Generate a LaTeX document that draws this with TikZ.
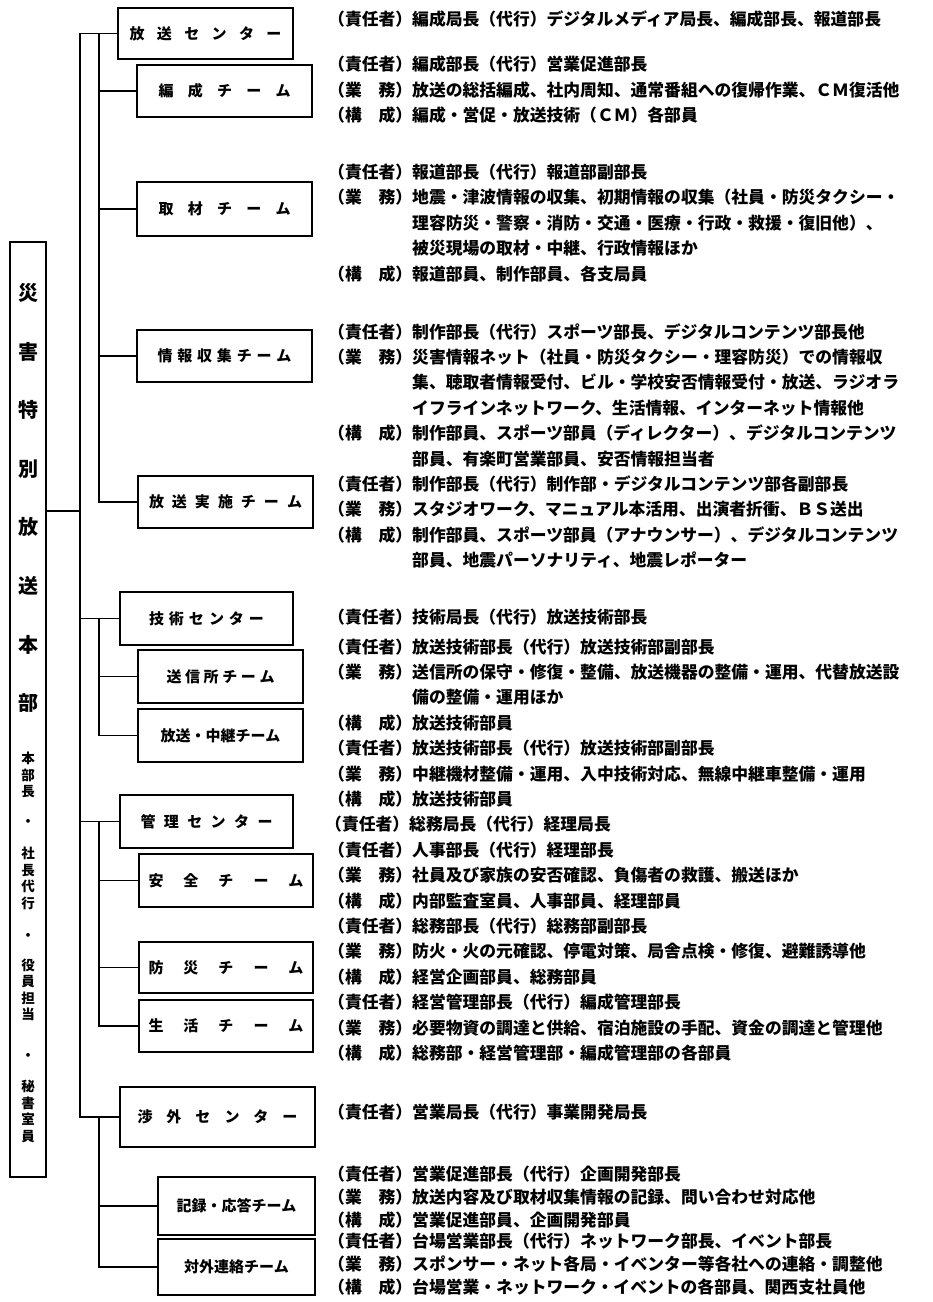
\documentclass[tikz,border=0pt]{standalone}
\usepackage{fontspec}
\newfontfamily\jp{Noto Sans CJK JP}
\newcommand\spread[2]{\makebox[#1][s]{#2}}
\newcommand\dl[1]{\strut\makebox[5em][l]{#1}}
\newcommand\dind{\strut\hspace*{5em}}

\begin{document}
\begin{tikzpicture}[
x=1pt, y=-1pt,
hub/.style={
draw,
line width=1.8pt,
inner sep=0pt,
minimum width=175pt,
minimum height=52pt,
font=\jp\bfseries\fontsize{15}{18}\selectfont
},
hqbox/.style={draw, line width=1.8pt, inner sep=0pt, minimum width=36pt, minimum height=935pt},
hqbig/.style={align=center, inner sep=0pt, font=\jp\bfseries\fontsize{20}{58.6}\selectfont},
hqsmall/.style={align=center, inner sep=0pt, font=\jp\bfseries\fontsize{13.5}{16.5}\selectfont},
duty/.style={anchor=west, align=left, inner sep=0pt, font=\jp\bfseries\fontsize{16.8}{25.4}\selectfont},
dutytight/.style={duty, font=\jp\bfseries\fontsize{16.8}{23}\selectfont},
link/.style={line width=1.8pt}
]
\useasboundingbox (0,0) rectangle (933,1302);

% headquarters
\node[hqbox] (hq) at (28,709.5) {};
\node[hqbig] (title) at (28,498) {災\\害\\特\\別\\放\\送\\本\\部};
\node[hqsmall] (role1) at (28,775) {本\\部\\長};
\node[hqsmall] (dot1) at (28,823) {・};
\node[hqsmall] (role2) at (28,878.5) {社\\長\\代\\行};
\node[hqsmall] (dot2) at (28,937) {・};
\node[hqsmall] (role3) at (28,990) {役\\員\\担\\当};
\node[hqsmall] (dot3) at (28,1057) {・};
\node[hqsmall] (role4) at (28,1111.5) {秘\\書\\室\\員};

% centers and teams
\node[hub, minimum height=51pt] (housou) at (205.5,33.5) {\spread{152pt}{放\hfill 送\hfill セ\hfill ン\hfill タ\hfill ー}};
\node[hub] (hensei) at (224.5,91) {\spread{132pt}{編\hfill 成\hfill チ\hfill ー\hfill ム}};
\node[hub, minimum height=54pt] (shuzai) at (224.5,209) {\spread{132pt}{取\hfill 材\hfill チ\hfill ー\hfill ム}};
\node[hub] (joho) at (224.5,356) {\spread{134pt}{情\hfill 報\hfill 収\hfill 集\hfill チ\hfill ー\hfill ム}};
\node[hub] (jisshi) at (225.5,502) {\spread{153pt}{放\hfill 送\hfill 実\hfill 施\hfill チ\hfill ー\hfill ム}};

\node[hub, minimum width=173pt, minimum height=53pt] (gijutsu) at (206.5,618.5) {\spread{115pt}{技\hfill 術\hfill セ\hfill ン\hfill タ\hfill ー}};
\node[hub, minimum width=165pt, minimum height=53pt] (soshin) at (220.5,676.5) {\spread{108pt}{送\hfill 信\hfill 所\hfill チ\hfill ー\hfill ム}};
\node[hub, minimum width=165pt, minimum height=53pt] (chukei) at (220.5,735.5) {放送・中継チーム};

\node[hub, minimum width=173pt, minimum height=53pt] (kanri) at (206.5,821.5) {\spread{132pt}{管\hfill 理\hfill セ\hfill ン\hfill タ\hfill ー}};
\node[hub, minimum width=174pt, minimum height=53pt] (anzen) at (226,880.5) {\spread{155pt}{安\hfill 全\hfill チ\hfill ー\hfill ム}};
\node[hub, minimum width=174pt, minimum height=51pt] (bosai) at (226,967.5) {\spread{155pt}{防\hfill 災\hfill チ\hfill ー\hfill ム}};
\node[hub, minimum width=174pt, minimum height=52pt] (seikatsu) at (226,1026) {\spread{155pt}{生\hfill 活\hfill チ\hfill ー\hfill ム}};

\node[hub, minimum width=195pt, minimum height=60pt] (shogai) at (217.5,1117) {\spread{160pt}{渉\hfill 外\hfill セ\hfill ン\hfill タ\hfill ー}};
\node[hub, minimum width=157pt, minimum height=58pt] (kiroku) at (236.5,1206) {記録・応答チーム};
\node[hub, minimum width=157pt, minimum height=56pt] (taigai) at (236.5,1267) {対外連絡チーム};

% connectors
\coordinate (trunk) at (80,0);
\coordinate (sub) at (99,0);
\coordinate (hqlink) at (80,511);
\draw[link] (hq.east |- hqlink) -- (hqlink);
\draw[link] (housou.west) -| (trunk |- shogai.west) -- (shogai.west);
\draw[link] (trunk |- gijutsu.west) -- (gijutsu.west);
\draw[link] (trunk |- kanri.west) -- (kanri.west);
\draw[link] (housou.west -| sub) |- (jisshi.west);
\foreach \t in {hensei,shuzai,joho}
\draw[link] (\t.west -| sub) -- (\t.west);
\draw[link] (gijutsu.west -| sub) |- (chukei.west);
\draw[link] (soshin.west -| sub) -- (soshin.west);
\draw[link] (kanri.west -| sub) |- (seikatsu.west);
\foreach \t in {anzen,bosai}
\draw[link] (\t.west -| sub) -- (\t.west);
\draw[link] (shogai.west -| sub) |- (taigai.west);
\draw[link] (kiroku.west -| sub) -- (kiroku.west);

% duties
\node[duty] (housou-d) at (328,20) {\dl{（責任者）}編成局長（代行）デジタルメディア局長、編成部長、報道部長};
\node[duty] (hensei-d) at (328,91) {\dl{（責任者）}編成部長（代行）営業促進部長\\
\dl{（業　務）}放送の総括編成、社内周知、通常番組への復帰作業、ＣＭ復活他\\
\dl{（構　成）}編成・営促・放送技術（ＣＭ）各部員};
\node[duty] (shuzai-d) at (328,224.2) {\dl{（責任者）}報道部長（代行）報道部副部長\\
\dl{（業　務）}地震・津波情報の収集、初期情報の収集（社員・防災タクシー・\\
\dind 理容防災・警察・消防・交通・医療・行政・救援・復旧他）、\\
\dind 被災現場の取材・中継、行政情報ほか\\
\dl{（構　成）}報道部員、制作部員、各支局員};
\node[duty] (joho-d) at (328,396.5) {\dl{（責任者）}制作部長（代行）スポーツ部長、デジタルコンテンツ部長他\\
\dl{（業　務）}災害情報ネット（社員・防災タクシー・理容防災）での情報収\\
\dind 集、聴取者情報受付、ビル・学校安否情報受付・放送、ラジオラ\\
\dind イフラインネットワーク、生活情報、インターネット情報他\\
\dl{（構　成）}制作部員、スポーツ部員（ディレクター）、デジタルコンテンツ\\
\dind 部員、有楽町営業部員、安否情報担当者};
\node[duty] (jisshi-d) at (328,523.5) {\dl{（責任者）}制作部長（代行）制作部・デジタルコンテンツ部各副部長\\
\dl{（業　務）}スタジオワーク、マニュアル本活用、出演者折衝、ＢＳ送出\\
\dl{（構　成）}制作部員、スポーツ部員（アナウンサー）、デジタルコンテンツ\\
\dind 部員、地震パーソナリティ、地震レポーター};
\node[duty] (gijutsu-d) at (328,618) {\dl{（責任者）}技術局長（代行）放送技術部長};
\node[duty] (soshin-d) at (328,686.1) {\dl{（責任者）}放送技術部長（代行）放送技術部副部長\\
\dl{（業　務）}送信所の保守・修復・整備、放送機器の整備・運用、代替放送設\\
\dind 備の整備・運用ほか\\
\dl{（構　成）}放送技術部員};
\node[duty] (chukei-d) at (328,775) {\dl{（責任者）}放送技術部長（代行）放送技術部副部長\\
\dl{（業　務）}中継機材整備・運用、入中技術対応、無線中継車整備・運用\\
\dl{（構　成）}放送技術部員};
\node[duty] (kanri-d) at (325,825.8) {\dl{（責任者）}総務局長（代行）経理局長};
\node[duty] (anzen-d) at (328,876.6) {\dl{（責任者）}人事部長（代行）経理部長\\
\dl{（業　務）}社員及び家族の安否確認、負傷者の救護、搬送ほか\\
\dl{（構　成）}内部監査室員、人事部員、経理部員};
\node[duty] (bosai-d) at (328,952.8) {\dl{（責任者）}総務部長（代行）総務部副部長\\
\dl{（業　務）}防火・火の元確認、停電対策、局舎点検・修復、避難誘導他\\
\dl{（構　成）}経営企画部員、総務部員};
\node[duty] (seikatsu-d) at (328,1029) {\dl{（責任者）}経営管理部長（代行）編成管理部長\\
\dl{（業　務）}必要物資の調達と供給、宿泊施設の手配、資金の調達と管理他\\
\dl{（構　成）}総務部・経営管理部・編成管理部の各部員};
\node[duty] (shogai-d) at (328,1113) {\dl{（責任者）}営業局長（代行）事業開発局長};
\node[dutytight] (kiroku-d) at (328,1199) {\dl{（責任者）}営業促進部長（代行）企画開発部長\\
\dl{（業　務）}放送内容及び取材収集情報の記録、問い合わせ対応他\\
\dl{（構　成）}営業促進部員、企画開発部員};
\node[dutytight] (taigai-d) at (328,1266) {\dl{（責任者）}台場営業部長（代行）ネットワーク部長、イベント部長\\
\dl{（業　務）}スポンサー・ネット各局・イベンター等各社への連絡・調整他\\
\dl{（構　成）}台場営業・ネットワーク・イベントの各部員、関西支社員他};
\end{tikzpicture}
\end{document}
